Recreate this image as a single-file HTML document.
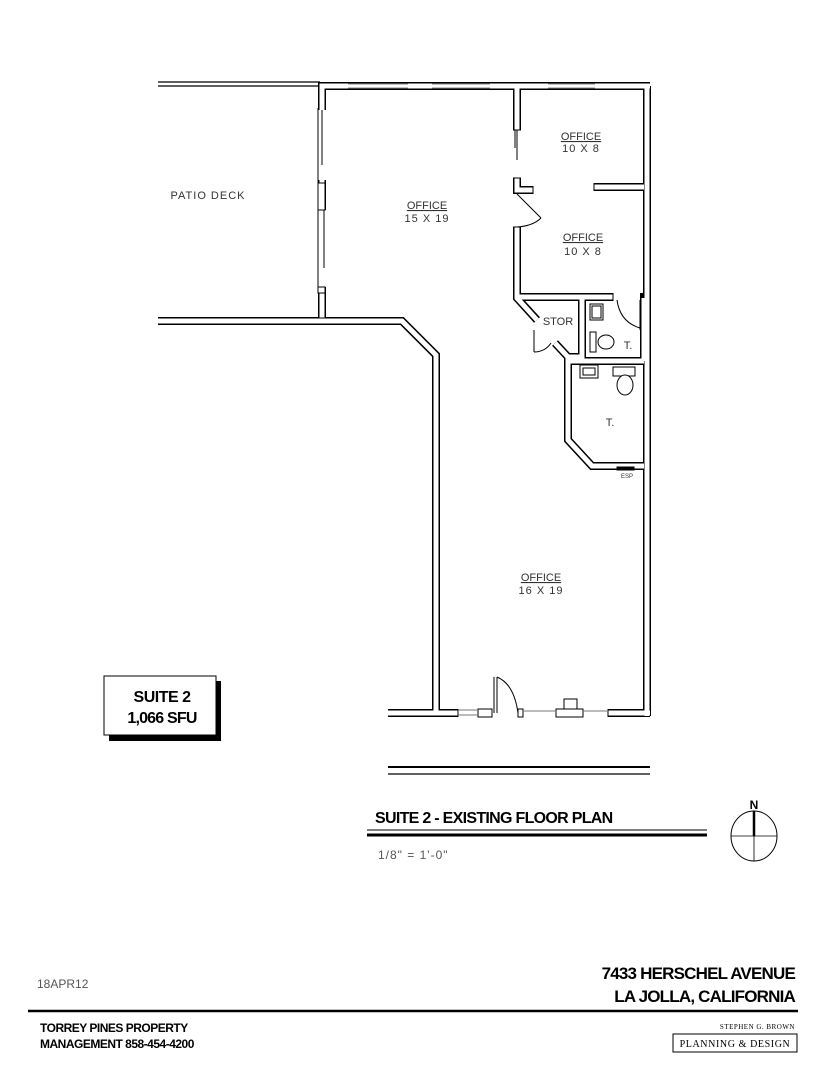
<!DOCTYPE html>
<html><head><meta charset="utf-8"><style>
html,body{margin:0;padding:0;background:#fff;}
svg{display:block;}
text{font-family:"Liberation Sans",sans-serif;}
</style></head><body>
<svg width="835" height="1080" viewBox="0 0 835 1080" xmlns="http://www.w3.org/2000/svg">
<g fill="none" stroke-linejoin="miter" stroke-linecap="butt">
<line x1="158" y1="82" x2="320" y2="82" stroke="#000" stroke-width="1.2"/>
<line x1="158" y1="86" x2="320" y2="86" stroke="#000" stroke-width="1.2"/>
<g stroke="#000" stroke-width="8">
<polyline points="322,318 322,86 650,86"/>
<polyline points="158,321 402,321 436,355 436,713 388,713"/>
<polyline points="436,713 650,713"/>
<line x1="647" y1="86" x2="647" y2="716"/>
<polyline points="517,86 517,130"/>
<polyline points="517,178 517,190 533,190"/>
<polyline points="517,227 517,298 537,320"/>
<polyline points="517,297 613,297"/>
<polyline points="640,297 644,297"/>
<line x1="594" y1="187" x2="644" y2="187"/>
<polyline points="582,298 582,357 568,357"/>
<polyline points="555,343 568,357 568,440 592,466 644,466"/>
<polyline points="568,361 644,361"/>
<line x1="644" y1="298" x2="644" y2="361"/>
</g>
<g stroke="#fff" stroke-width="5">
<polyline points="322,318 322,86 650,86"/>
<polyline points="158,321 402,321 436,355 436,713 388,713"/>
<polyline points="436,713 650,713"/>
<line x1="647" y1="86" x2="647" y2="716"/>
<polyline points="517,86 517,130"/>
<polyline points="517,178 517,190 533,190"/>
<polyline points="517,227 517,298 537,320"/>
<polyline points="517,297 613,297"/>
<line x1="594" y1="187" x2="644" y2="187"/>
<polyline points="582,298 582,357 568,357"/>
<polyline points="555,343 568,357 568,440 592,466 644,466"/>
<polyline points="568,361 644,361"/>
<line x1="644" y1="298" x2="644" y2="361"/>
</g>
<!-- end caps -->
<g stroke="#000" stroke-width="1">
<line x1="513" y1="130" x2="521" y2="130"/>
<line x1="513" y1="178" x2="521" y2="178"/>
<line x1="513" y1="227" x2="521" y2="227"/>
<line x1="533" y1="186" x2="533" y2="194"/>
<line x1="594" y1="183" x2="594" y2="191"/>
<line x1="613" y1="293" x2="613" y2="301"/>
<line x1="318" y1="318" x2="326" y2="318"/>
</g>
<g stroke="#888" stroke-width="1">
<line x1="348" y1="84" x2="408" y2="84"/><line x1="348" y1="88" x2="408" y2="88"/>
<line x1="432" y1="84" x2="490" y2="84"/><line x1="432" y1="88" x2="490" y2="88"/>
<line x1="548" y1="84" x2="595" y2="84"/><line x1="548" y1="88" x2="595" y2="88"/>
</g>
<rect x="318" y="110" width="8" height="70" fill="#fff" stroke="none"/>
<rect x="318" y="210" width="8" height="77" fill="#fff" stroke="none"/>
<g stroke="#000" stroke-width="1">
<line x1="318" y1="108" x2="318" y2="290"/>
<line x1="322" y1="110" x2="322" y2="165"/>
<line x1="324" y1="210" x2="324" y2="268"/>
<rect x="318" y="183" width="7" height="27" fill="#fff"/>
<rect x="318" y="287" width="7" height="6" fill="#fff"/>
<line x1="517" y1="130" x2="517" y2="160"/><line x1="515" y1="130" x2="515" y2="148"/>
</g>
<g stroke="#000" stroke-width="1">
<line x1="517" y1="194" x2="541" y2="218"/>
<path d="M517,227 Q533,226 541,218"/>
<path d="M617,300 Q620,322 640,328"/>
<line x1="640" y1="300" x2="640" y2="330"/>
<line x1="534" y1="330" x2="534" y2="352"/>
<path d="M534,352 Q545,352 551,343"/>
</g>
<!-- bottom wall details -->
<rect x="458" y="708" width="150" height="10" fill="#fff" stroke="none"/>
<g stroke="#000" stroke-width="1">
<line x1="458" y1="709" x2="458" y2="717"/>
<rect x="478" y="709" width="14" height="8" fill="#fff"/>
<line x1="494" y1="677" x2="494" y2="713"/>
<line x1="497" y1="677" x2="497" y2="713"/>
<path d="M497,677 Q514,684 518,713"/>
<rect x="518" y="709" width="5" height="8" fill="#fff"/>
<rect x="556" y="709" width="27" height="8" fill="#fff"/>
<rect x="564" y="699" width="13" height="10" fill="#fff"/>
<line x1="608" y1="709" x2="608" y2="717"/>
<line x1="458" y1="710" x2="478" y2="710" stroke="#777"/><line x1="458" y1="715" x2="478" y2="715" stroke="#777"/>
<line x1="523" y1="711" x2="556" y2="711" stroke="#777"/><line x1="583" y1="711" x2="608" y2="711" stroke="#777"/>
</g>
<g stroke="#000" stroke-width="1" fill="#fff">
<rect x="590" y="304" width="13" height="16"/><rect x="592" y="306" width="9" height="12"/>
<rect x="590" y="332" width="6" height="20"/><ellipse cx="606" cy="342" rx="8" ry="7"/>
<rect x="580" y="365" width="18" height="13"/><rect x="583" y="368" width="12" height="7"/>
<rect x="613" y="367" width="22" height="9"/><ellipse cx="625" cy="385" rx="8" ry="10"/>
<rect x="617" y="467" width="17" height="3" fill="#000"/>
</g>
<line x1="388" y1="767" x2="650" y2="767" stroke="#000" stroke-width="2"/>
<line x1="388" y1="774" x2="650" y2="774" stroke="#000" stroke-width="1.2"/>
</g>
<g font-size="11" fill="#333" text-anchor="middle">
<text x="208" y="199" letter-spacing="1">PATIO DECK</text>
<text x="427" y="209" text-decoration="underline">OFFICE</text><text x="427" y="222" letter-spacing="1">15 X 19</text>
<text x="581" y="140" text-decoration="underline">OFFICE</text><text x="581" y="152" letter-spacing="1">10 X 8</text>
<text x="583" y="241" text-decoration="underline">OFFICE</text><text x="583" y="255" letter-spacing="1">10 X 8</text>
<text x="558" y="325">STOR</text>
<text x="628" y="349">T.</text>
<text x="610" y="426">T.</text>
<text x="627" y="478" font-size="6">ESP</text>
<text x="541" y="581" text-decoration="underline">OFFICE</text><text x="541" y="594" letter-spacing="1">16 X 19</text>
</g>
<rect x="109" y="681" width="112" height="60" fill="#000"/>
<rect x="104" y="676" width="112" height="59" fill="#fff" stroke="#000" stroke-width="1"/>
<text x="162" y="702" font-size="16" font-weight="bold" text-anchor="middle" letter-spacing="-0.5">SUITE 2</text>
<text x="162" y="723" font-size="16" font-weight="bold" text-anchor="middle" letter-spacing="-0.8">1,066 SFU</text>
<text x="375" y="823" font-size="16" font-weight="bold" letter-spacing="-0.7">SUITE 2 - EXISTING FLOOR PLAN</text>
<line x1="367" y1="830" x2="707" y2="830" stroke="#000" stroke-width="1"/>
<line x1="367" y1="835" x2="707" y2="835" stroke="#000" stroke-width="3"/>
<text x="378" y="859" font-size="12" fill="#555" letter-spacing="1">1/8"  =  1'-0"</text>
<ellipse cx="754" cy="836" rx="23" ry="25" fill="none" stroke="#000" stroke-width="1"/>
<line x1="754" y1="811" x2="754" y2="836" stroke="#000" stroke-width="2.5"/>
<line x1="754" y1="836" x2="754" y2="861" stroke="#000" stroke-width="0.8"/>
<line x1="731" y1="836" x2="777" y2="836" stroke="#000" stroke-width="0.8"/>
<text x="754" y="809" font-size="12" font-weight="bold" text-anchor="middle">N</text>
<text x="37" y="988" font-size="12" fill="#555">18APR12</text>
<text x="795" y="979" font-size="17" font-weight="bold" text-anchor="end" letter-spacing="-0.8">7433 HERSCHEL AVENUE</text>
<text x="795" y="1002" font-size="17" font-weight="bold" text-anchor="end" letter-spacing="-0.8">LA JOLLA, CALIFORNIA</text>
<line x1="28" y1="1011" x2="798" y2="1011" stroke="#000" stroke-width="2.5"/>
<text x="40" y="1032" font-size="12" font-weight="bold" letter-spacing="-0.5">TORREY PINES PROPERTY</text>
<text x="40" y="1048" font-size="12" font-weight="bold" letter-spacing="-0.5">MANAGEMENT 858-454-4200</text>
<text x="795" y="1029" font-size="7" text-anchor="end" letter-spacing="0.5" style="font-family:'Liberation Serif',serif">STEPHEN G. BROWN</text>
<rect x="673" y="1034" width="124" height="18" fill="none" stroke="#000" stroke-width="1"/>
<text x="735" y="1047" font-size="10" text-anchor="middle" letter-spacing="0.6" style="font-family:'Liberation Serif',serif">PLANNING &amp; DESIGN</text>
</svg>
</body></html>
